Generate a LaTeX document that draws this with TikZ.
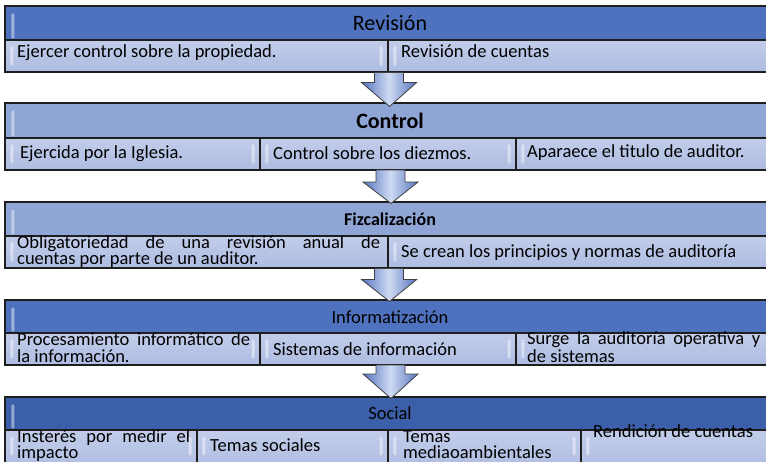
\documentclass[tikz,border=0pt]{standalone}
\usepackage{fontspec}
\setmainfont{Carlito}
\usetikzlibrary{calc,fit}
\definecolor{hdark}{HTML}{4F72BE}
\definecolor{hlight}{HTML}{8FA5D6}
\definecolor{hsoc}{HTML}{3C5FA9}
\definecolor{subtop}{HTML}{C2CDEA}
\definecolor{subbot}{HTML}{AEBCE1}
\definecolor{linec}{HTML}{1E1E1E}
\definecolor{arrowside}{HTML}{5676C2}
\definecolor{arrowmid}{HTML}{CFDAF2}
\begin{document}
\begin{tikzpicture}[x=1pt,y=-1pt,
  box/.style={draw=linec, line width=1.1pt, inner sep=0pt},
  hbox/.style={box, fill=#1},
  cbox/.style={box, top color=subtop, bottom color=subbot},
  htxt/.style={inner sep=0pt, font=\fontsize{18.5}{20}\selectfont},
  hbig/.style={inner sep=0pt, font=\fontsize{22}{24}\selectfont},
  ctxt/.style={inner sep=0pt, anchor=base west, font=\fontsize{18.5}{20}\selectfont},
  gloss/.style={fill=white, opacity=0.45, rounded corners=1.2pt},
  blockarrow/.style={draw=black!75, line width=0.8pt, left color=arrowside, right color=arrowside, middle color=arrowmid}]
\useasboundingbox (0,0) rectangle (766,461);

% ---------- Block 1 : Revision
\node[hbox=hdark, fit={(5,6)(772,40)}] (h1) {};
\node[cbox, fit={(5,40)(388,72)}] (c11) {};
\node[cbox, fit={(388,40)(772,72)}] (c12) {};
\node[hbig] (t1) at (390,23) {Revisión};
\node[ctxt] (t11) at (17,57) {Ejercer control sobre la propiedad.};
\node[ctxt] (t12) at (401,57) {Revisión de cuentas};

% ---------- Block 2 : Control
\node[hbox=hlight, fit={(5,103)(772,138)}] (h2) {};
\node[cbox, fit={(5,138)(260,170)}] (c21) {};
\node[cbox, fit={(260,138)(516,170)}] (c22) {};
\node[cbox, fit={(516,138)(772,170)}] (c23) {};
\node[hbig, font=\fontsize{22}{24}\selectfont\bfseries] (t2) at (390,121) {Control};
\node[ctxt] (t21) at (20,158) {Ejercida por la Iglesia.};
\node[ctxt] (t22) at (273,159) {Control sobre los diezmos.};
\node[ctxt] (t23) at (527,157) {Aparaece el titulo de auditor.};

% ---------- Block 3 : Fizcalizacion
\node[hbox=hlight, fit={(5,202)(772,236)}] (h3) {};
\node[cbox, fit={(5,236)(388,268)}] (c31) {};
\node[cbox, fit={(388,236)(772,268)}] (c32) {};
\node[htxt, font=\fontsize{18}{20}\selectfont\bfseries] (t3) at (390,219) {Fizcalización};
\node[ctxt] (t31a) at (17,248) {\makebox[363pt][s]{Obligatoriedad de una revisión anual de}};
\node[ctxt] (t31b) at (17,264) {cuentas por parte de un auditor.};
\node[ctxt] (t32) at (401,257) {Se crean los principios y normas de auditoría};

% ---------- Block 4 : Informatizacion
\node[hbox=hdark, fit={(5,300)(772,333)}] (h4) {};
\node[cbox, fit={(5,333)(260,365)}] (c41) {};
\node[cbox, fit={(260,333)(516,365)}] (c42) {};
\node[cbox, fit={(516,333)(772,365)}] (c43) {};
\node[htxt] (t4) at (390,317) {Informatización};
\node[ctxt] (t41a) at (17,345) {\makebox[233pt][s]{Procesamiento informático de}};
\node[ctxt] (t41b) at (17,362) {la información.};
\node[ctxt] (t42) at (273,355) {Sistemas de información};
\node[ctxt] (t43a) at (527,344) {\makebox[233pt][s]{Surge la auditoría operativa y}};
\node[ctxt] (t43b) at (527,362) {de sistemas};

% ---------- Block 5 : Social
\node[hbox=hsoc, fit={(5,397)(772,430)}] (h5) {};
\node[cbox, fit={(5,430)(197,472)}] (c51) {};
\node[cbox, fit={(197,430)(388,472)}] (c52) {};
\node[cbox, fit={(388,430)(581,472)}] (c53) {};
\node[cbox, fit={(581,430)(772,472)}] (c54) {};
\node[htxt] (t5) at (390,413) {Social};
\node[ctxt] (t51a) at (17,442) {\makebox[173pt][s]{Insterés por medir el}};
\node[ctxt] (t51b) at (17,458) {impacto};
\node[ctxt] (t52) at (210,451) {Temas sociales};
\node[ctxt] (t53a) at (403,442) {Temas};
\node[ctxt] (t53b) at (403,458) {mediaoambientales};
\node[ctxt] (t54) at (593,437) {Rendición de cuentas};

% ---------- gloss highlights
\foreach \n in {h1,h2,h3,h4,h5}{
  \fill[gloss] ($(\n.north west)+(7,8)$) rectangle ($(\n.south west)+(10,-2)$);
}
\foreach \n in {c11,c12,c21,c22,c23,c31,c32,c41,c42,c43,c51,c52,c53,c54}{
  \fill[gloss] ($(\n.north west)+(6,7)$) rectangle ($(\n.north west)+(9,26)$);
}
\foreach \n in {c11,c21,c22,c41,c42,c51,c52,c53}{
  \fill[gloss] ($(\n.north east)+(-9,7)$) rectangle ($(\n.north east)+(-6,26)$);
}

% ---------- block arrows
\coordinate (a1) at ($(c11.south east)$);
\coordinate (a1t) at ($(h2.north west)!(a1)!(h2.north east)+(0,4)$);
\coordinate (a2) at (390,170);
\coordinate (a2t) at ($(h3.north west)!(a2)!(h3.north east)+(0,2)$);
\coordinate (a3) at ($(c31.south east)$);
\coordinate (a3t) at ($(h4.north west)!(a3)!(h4.north east)+(0,2)$);
\coordinate (a4) at (390,365);
\coordinate (a4t) at ($(h5.north west)!(a4)!(h5.north east)+(0,2)$);
\foreach \s/\t/\hb in {a1/a1t/10, a2/a2t/12, a3/a3t/11, a4/a4t/9}{
  \draw[blockarrow] ($(\s)+(-14,0)$) -- ($(\s)+(15,0)$) -- ($(\s)+(15,\hb)$) -- ($(\s)+(28,\hb)$)
    -- ($(\t)+(1,0)$) -- ($(\s)+(-27,\hb)$) -- ($(\s)+(-14,\hb)$) -- cycle;
}
\end{tikzpicture}
\end{document}
